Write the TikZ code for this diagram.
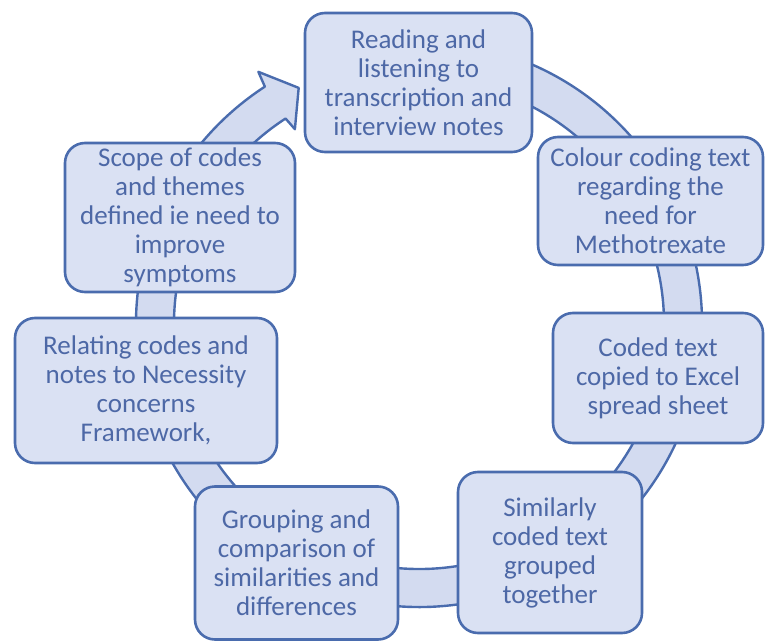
\documentclass[tikz,border=0pt]{standalone}
\usepackage{fontspec}
\setmainfont{Carlito}
\definecolor{txtblue}{HTML}{4D68A6}
\definecolor{edgeblue}{HTML}{4A6CAE}
\definecolor{boxfill}{HTML}{DAE1F3}
\definecolor{ringfill}{HTML}{D3DBF0}
\begin{document}
\begin{tikzpicture}[x=1pt,y=1pt,
  stepbox/.style={draw=edgeblue, line width=2.6pt, fill=boxfill, rounded corners=20pt,
    align=center, inner sep=0pt, text=txtblue,
    font=\fontsize{27}{29}\selectfont},
  ring/.style={draw=edgeblue, line width=2.4pt, fill=ringfill, line join=round}]
\useasboundingbox (0,0) rectangle (765,641);
\coordinate (c) at (419,317);
% circular arrow band
\path[ring] ([shift={(80:283pt)}]c) arc[start angle=80, end angle=-237, radius=283pt]
  -- ([shift={(-237.5:299pt)}]c) -- ([shift={(-243:265pt)}]c)
  -- ([shift={(-237.5:231pt)}]c) -- ([shift={(-237:245pt)}]c)
  arc[start angle=-237, end angle=80, radius=245pt] -- cycle;
% boxes
\node[stepbox, minimum width=227pt, minimum height=139pt] (a) at (418.5,558.5)
  {Reading and\\listening to\\transcription and\\interview notes};
\node[stepbox, minimum width=225pt, minimum height=128pt] (b) at (650.5,440)
  {Colour coding text\\regarding the\\need for\\Methotrexate};
\node[stepbox, minimum width=210pt, minimum height=130pt] (c1) at (658,263)
  {Coded text\\copied to Excel\\spread sheet};
\node[stepbox, minimum width=184pt, minimum height=161pt] (d) at (550,88.5)
  {Similarly\\coded text\\grouped\\together};
\node[stepbox, minimum width=203pt, minimum height=153pt] (e) at (296.5,78)
  {Grouping and\\comparison of\\similarities and\\differences};
\node[stepbox, minimum width=262pt, minimum height=145pt] (f) at (146,250.5)
  {Relating codes and\\notes to Necessity\\concerns\\Framework,};
\node[stepbox, minimum width=230pt, minimum height=149pt] (g) at (180,423.5)
  {Scope of codes\\and themes\\defined ie need to\\improve\\symptoms};
\end{tikzpicture}
\end{document}
